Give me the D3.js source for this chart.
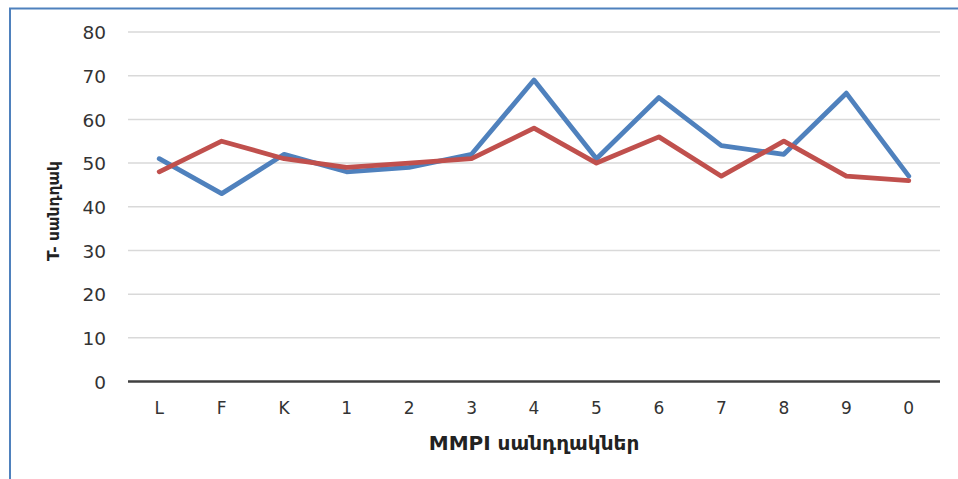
<!DOCTYPE html>
<html><head><meta charset="utf-8">
<script src="https://cdn.jsdelivr.net/npm/d3@7"></script>
<style>
body{margin:0;background:#fff;}
svg{display:block;}
</style></head>
<body>
<svg id="c" width="958" height="479"></svg>
<script>
const categories = ["L","F","K","1","2","3","4","5","6","7","8","9","0"];
const seriesBlue = [51,43,52,48,49,52,69,51,65,54,52,66,47];
const seriesRed  = [48,55,51,49,50,51,58,50,56,47,55,47,46];
const yTicks = [0,10,20,30,40,50,60,70,80];
const xTitle = "MMPI սանդղակներ";
const yTitle = "T- սանդղակ";

const svg = d3.select("#c");
const L = 128, R = 940, T = 32, B = 381.5;
const x = d3.scaleBand().domain(categories).range([L, R]);
const y = d3.scaleLinear().domain([0, 80]).range([B, T]);
const FONT = "DejaVu Sans, sans-serif";

// frame
svg.append("path").attr("d", "M10,479 L10,8.5 L958,8.5")
  .attr("fill","none").attr("stroke","#4F81BD").attr("stroke-width",2);

// gridlines
svg.append("g").selectAll("line").data(yTicks.filter(d=>d>0)).join("line")
  .attr("x1", L).attr("x2", R)
  .attr("y1", d=>y(d)).attr("y2", d=>y(d))
  .attr("stroke","#D9D9D9").attr("stroke-width",1.5);

// y axis labels
const yAxis = d3.axisLeft(y).tickValues(yTicks).tickSize(0).tickPadding(0);
const gy = svg.append("g").attr("transform", `translate(106,0)`).call(yAxis);
gy.select(".domain").remove();
gy.selectAll("text").attr("font-family",FONT)
  .attr("font-size",18.5).attr("fill","#333").attr("dy","0.36em");

// zero line
svg.append("line").attr("x1",L).attr("x2",R).attr("y1",y(0)).attr("y2",y(0))
  .attr("stroke","#404040").attr("stroke-width",2.5);

// x axis labels
const xAxis = d3.axisBottom(x).tickSize(0).tickPadding(0);
const gx = svg.append("g").attr("transform", `translate(0,402)`).call(xAxis);
gx.select(".domain").remove();
gx.selectAll("text").attr("font-family",FONT)
  .attr("font-size",17).attr("fill","#333");

// lines
const line = d3.line().x((d,i)=>x(categories[i]) + x.bandwidth()/2).y(d=>y(d));
svg.append("path").datum(seriesBlue).attr("d", line)
  .attr("fill","none").attr("stroke","#4F81BD").attr("stroke-width",4.8)
  .attr("stroke-linejoin","round").attr("stroke-linecap","round");
svg.append("path").datum(seriesRed).attr("d", line)
  .attr("fill","none").attr("stroke","#C0504D").attr("stroke-width",4.8)
  .attr("stroke-linejoin","round").attr("stroke-linecap","round");

// titles
svg.append("text").attr("x", 534).attr("y", 450).attr("text-anchor","middle")
  .attr("font-family",FONT).attr("font-weight","bold")
  .attr("font-size",20).attr("fill","#222").text(xTitle);
svg.append("text").attr("transform","translate(59,211) rotate(-90)").attr("text-anchor","middle")
  .attr("font-family",FONT).attr("font-weight","bold")
  .attr("font-size",15.5).attr("fill","#222").text(yTitle);
</script>
</body></html>
